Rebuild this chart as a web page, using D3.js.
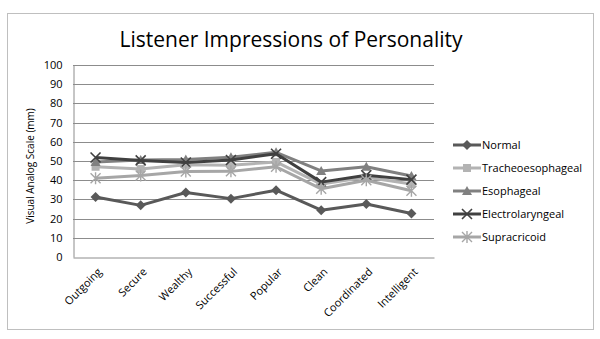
<!DOCTYPE html>
<html>
<head>
<meta charset="utf-8">
<script src="https://cdnjs.cloudflare.com/ajax/libs/d3/7.8.5/d3.min.js"></script>
<style>
  html, body { margin: 0; padding: 0; background: #fff; }
  svg { display: block; }
  text { font-family: "Open Sans", "Liberation Sans", sans-serif; fill: #000; }
</style>
</head>
<body>
<svg id="chart" width="600" height="339"></svg>
<script>
// Personality traits rated by listeners
const categories = ["Outgoing", "Secure", "Wealthy", "Successful", "Popular", "Clean", "Coordinated", "Intelligent"];

// Mean visual analog scale ratings (mm) per speaker group
const normal            = [31.2, 26.9, 33.6, 30.4, 34.8, 24.4, 27.6, 22.7];
const tracheoesophageal = [47.0, 45.8, 48.0, 47.8, 49.5, 38.0, 41.5, 38.0];
const esophageal        = [49.5, 50.5, 50.8, 52.0, 54.5, 44.8, 47.0, 42.2];
const electrolaryngeal  = [51.8, 50.3, 49.2, 50.5, 53.8, 39.0, 42.6, 40.3];
const supracricoid      = [41.0, 42.5, 44.5, 44.6, 47.0, 35.5, 40.0, 34.5];

const yTicks = [0, 10, 20, 30, 40, 50, 60, 70, 80, 90, 100];

const series = [
  { name: "Normal",            values: normal,            color: "#595959", marker: "diamond" },
  { name: "Tracheoesophageal", values: tracheoesophageal, color: "#b3b3b3", marker: "square" },
  { name: "Esophageal",        values: esophageal,        color: "#808080", marker: "triangle" },
  { name: "Electrolaryngeal",  values: electrolaryngeal,  color: "#404040", marker: "x" },
  { name: "Supracricoid",      values: supracricoid,      color: "#a6a6a6", marker: "star" }
];

const svg = d3.select("#chart");

// Outer chart frame
svg.append("rect")
  .attr("x", 7.5).attr("y", 13.5)
  .attr("width", 586).attr("height", 316)
  .attr("fill", "#fff").attr("stroke", "#bfbfbf").attr("stroke-width", 1);

const plot = { left: 73, right: 434, top: 65, bottom: 257 };

const x = d3.scaleBand().domain(categories).range([plot.left, plot.right]);
const y = d3.scaleLinear().domain([0, 100]).range([plot.bottom, plot.top]);

// Title
svg.append("text")
  .attr("x", 291).attr("y", 47)
  .attr("text-anchor", "middle")
  .style("font-size", "21px")
  .text("Listener Impressions of Personality");

// Horizontal gridlines
svg.append("g")
  .selectAll("line")
  .data(yTicks.filter(d => d > 0))
  .join("line")
  .attr("x1", plot.left).attr("x2", plot.right)
  .attr("y1", d => Math.round(y(d)) + 0.5).attr("y2", d => Math.round(y(d)) + 0.5)
  .attr("stroke", "#8c8c8c").attr("stroke-width", 1);

// Y axis
const yAxis = svg.append("g")
  .attr("transform", `translate(${plot.left + 0.5},0)`)
  .call(d3.axisLeft(y).tickValues(yTicks).tickSize(0).tickPadding(11));
yAxis.select(".domain").attr("stroke", "#8c8c8c");
yAxis.selectAll("text").style("font-size", "11px").style("font-family", "\"Open Sans\", sans-serif");

// X axis
const xAxis = svg.append("g")
  .attr("transform", `translate(0,${Math.round(plot.bottom) + 0.5})`)
  .call(d3.axisBottom(x).tickSize(0).tickPadding(0));
xAxis.select(".domain").attr("stroke", "#8c8c8c");
xAxis.selectAll("text")
  .style("font-size", "11px")
  .style("font-family", "\"Open Sans\", sans-serif")
  .attr("text-anchor", "end")
  .attr("dy", null)
  .attr("transform", "translate(7,15) rotate(-45)");

// Y axis title
svg.append("text")
  .attr("transform", "translate(34,166) rotate(-90)")
  .attr("text-anchor", "middle")
  .style("font-size", "10px")
  .text("Visual Analog Scale (mm)");

// Marker shapes
function drawMarker(g, type, color) {
  if (type === "diamond") {
    g.append("path").attr("d", "M0,-5L5,0L0,5L-5,0Z").attr("fill", color);
  } else if (type === "square") {
    g.append("rect").attr("x", -4).attr("y", -4).attr("width", 8).attr("height", 8).attr("fill", color);
  } else if (type === "triangle") {
    g.append("path").attr("d", "M0,-5L5,4L-5,4Z").attr("fill", color);
  } else if (type === "x") {
    g.append("path").attr("d", "M-5,-5L5,5M-5,5L5,-5").attr("stroke", color).attr("stroke-width", 1.6).attr("fill", "none");
  } else if (type === "star") {
    g.append("path").attr("d", "M-5,-5L5,5M-5,5L5,-5M0,-6L0,6").attr("stroke", color).attr("stroke-width", 1.4).attr("fill", "none");
  }
}

const line = d3.line()
  .x((d, i) => x(categories[i]) + x.bandwidth() / 2)
  .y(d => y(d));

series.forEach(s => {
  const g = svg.append("g");
  g.append("path")
    .attr("d", line(s.values))
    .attr("fill", "none")
    .attr("stroke", s.color)
    .attr("stroke-width", 3)
    .attr("stroke-linejoin", "round");
  s.values.forEach((v, i) => {
    const m = g.append("g")
      .attr("transform", `translate(${x(categories[i]) + x.bandwidth() / 2},${y(v)})`);
    drawMarker(m, s.marker, s.color);
  });
});

// Legend
const legend = svg.append("g");
series.forEach((s, i) => {
  const ly = 145 + i * 23;
  legend.append("line")
    .attr("x1", 453).attr("x2", 481)
    .attr("y1", ly).attr("y2", ly)
    .attr("stroke", s.color).attr("stroke-width", 3);
  const m = legend.append("g").attr("transform", `translate(467,${ly})`);
  drawMarker(m, s.marker, s.color);
  legend.append("text")
    .attr("x", 482).attr("y", ly + 4)
    .style("font-size", "11px")
    .text(s.name);
});
</script>
</body>
</html>
